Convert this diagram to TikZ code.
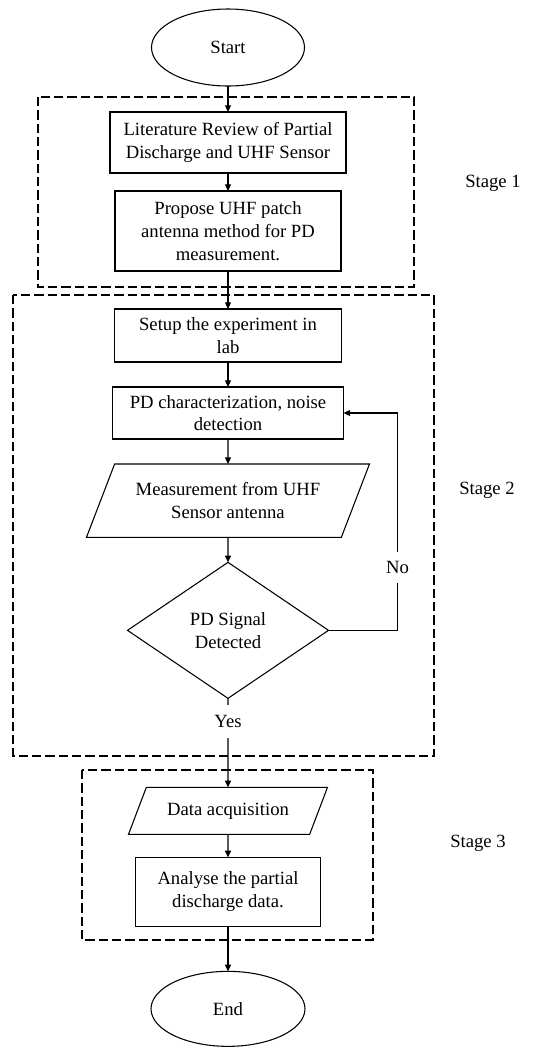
\documentclass[tikz,border=0pt]{standalone}
\usepackage{fontspec}
\setmainfont{Liberation Serif}
\usetikzlibrary{arrows.meta,positioning,shapes.geometric}

\begin{document}
\begin{tikzpicture}[
    every node/.style={font=\fontsize{14}{17}\selectfont, align=center, inner sep=0pt, outer sep=0pt},
    process/.style={rectangle, draw, line width=0.8pt},
    terminal/.style={ellipse, draw, line width=0.8pt},
    iobox/.style={trapezium, trapezium left angle=69, trapezium right angle=111,
      trapezium stretches body, draw, line width=0.8pt},
    decision/.style={diamond, draw, line width=0.8pt},
    stagebox/.style={draw, line width=0.8pt, dash pattern=on 7pt off 3pt},
    flow/.style={draw, line width=0.8pt, -{Triangle[length=5pt,width=4.5pt]}}]
  \useasboundingbox (0,0) rectangle (405.75pt,-785.25pt);
      \node (start) [terminal, minimum width=114.75pt, minimum height=57.75pt] at (171pt,-35.625pt) {Start};
      \node (lit) [process, minimum width=177pt, minimum height=45.75pt, below= 19.5pt of start] {Literature Review of Partial\\Discharge and UHF Sensor};
      \node (prop) [process, minimum width=169.5pt, minimum height=60pt, below= 13.5pt of lit] {Propose UHF patch\\antenna method for PD\\measurement.};
      \node (setup) [process, minimum width=170.25pt, minimum height=39.75pt, below= 28.5pt of prop] {Setup the experiment in\\lab};
      \node (char) [process, minimum width=173.25pt, minimum height=39pt, below= 18.75pt of setup] {PD characterization, noise\\detection};
      \node (meas) [iobox, inner ysep=14pt, minimum width=212.25pt, minimum height=54.75pt, below= 18.75pt of char] {Measurement from UHF\\Sensor antenna};
      \node (dec) [decision, minimum width=150.75pt, minimum height=102pt, below= 18.75pt of meas] {PD Signal\\Detected};
      \node (acq) [iobox, inner ysep=11.3pt, minimum width=149.25pt, minimum height=35.25pt, below= 66.75pt of dec] {Data acquisition};
      \node (anal) [process, minimum width=138.75pt, minimum height=51.75pt, below= 17.25pt of acq] {Analyse the partial\\discharge data.};
      \node (end) [terminal, minimum width=115.5pt, minimum height=56.25pt, below= 33.75pt of anal] {End};

      \node (stageA) at (369.75pt,-137.25pt) {Stage 1};
      \node (stageB) at (365.25pt,-367.5pt) {Stage 2};
      \node (stageC) at (358.5pt,-632.25pt) {Stage 3};

      \draw[stagebox] (28.5pt,-72.75pt) rectangle (310.5pt,-215.25pt);
      \draw[stagebox] (9.75pt,-221.25pt) rectangle (325.5pt,-567pt);
      \draw[stagebox] (61.5pt,-577.5pt) rectangle (279.75pt,-705pt);

      \draw[flow] (start) -- (lit);
      \draw[flow] (lit) -- (prop);
      \draw[flow] (prop) -- (setup);
      \draw[flow] (setup) -- (char);
      \draw[flow] (char) -- (meas);
      \draw[flow] (meas) -- (dec);
      \draw[flow] (dec) -- node[fill=white, pos=0.26, inner xsep=2pt, inner ysep=8pt] (yes) {Yes} (acq);
      \draw[flow] (dec.east) -- ++(51.75pt,0) coordinate (back)
        -- node[fill=white, pos=0.29, inner xsep=2pt, inner ysep=7pt] (no) {No} (back |- char.east) -- (char.east);
      \draw[flow] (acq) -- (anal);
      \draw[flow] (anal) -- (end);
\end{tikzpicture}
\end{document}
